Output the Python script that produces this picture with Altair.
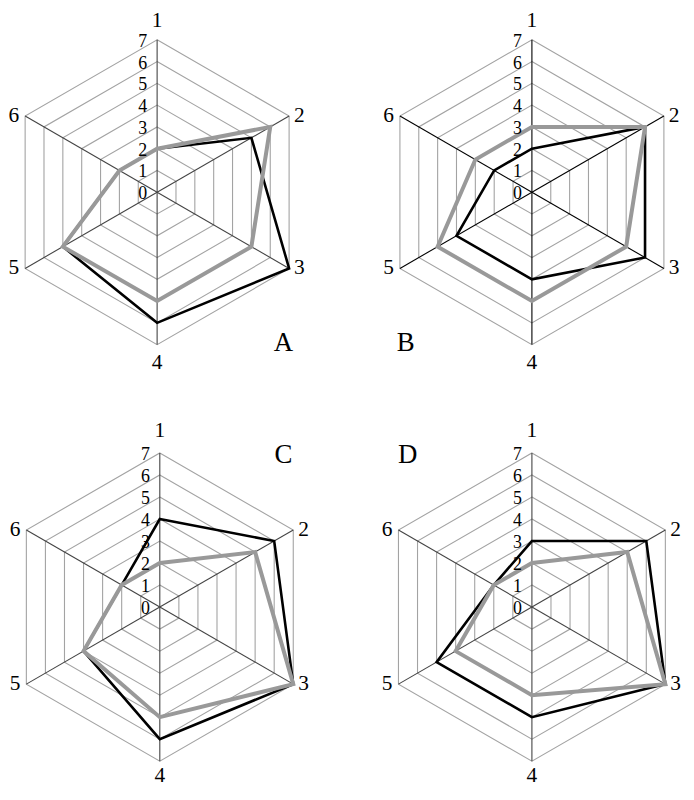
import altair as alt
import pandas as pd

# ---------------- data ----------------
AXIS_LABELS = ["1", "2", "3", "4", "5", "6"]
LEVELS = [1, 2, 3, 4, 5, 6, 7]
TICK_LABELS = [0, 1, 2, 3, 4, 5, 6, 7]
PANELS = ["A", "B", "C", "D"]

BLACK_A = [2, 5, 7, 6, 5, 2]
GRAY_A = [2, 6, 5, 5, 5, 2]
BLACK_B = [2, 6, 6, 4, 4, 2]
GRAY_B = [3, 6, 5, 5, 5, 3]
BLACK_C = [4, 6, 7, 6, 4, 2]
GRAY_C = [2, 5, 7, 5, 4, 2]
BLACK_D = [3, 6, 7, 5, 5, 2]
GRAY_D = [2, 5, 7, 4, 4, 2]

SERIES = {
    "A": (BLACK_A, GRAY_A),
    "B": (BLACK_B, GRAY_B),
    "C": (BLACK_C, GRAY_C),
    "D": (BLACK_D, GRAY_D),
}
RMAX = max(LEVELS)

FONT = "Liberation Serif"

# ---------------- layout (pixels) ----------------
H1, H2 = 410, 372
LAYOUT = {
    "A": dict(w=340, h=H1, cx=150, cy=183, u=153.3 / 7, spoke="#444444", lx=277, ly=335, tdy=-18.5, bdy=19),
    "B": dict(w=338, h=H1, cx=187, cy=183, u=153.3 / 7, spoke="#000000", lx=60, ly=335, tdy=-18.5, bdy=19),
    "C": dict(w=340, h=H2, cx=152.7, cy=190.3, u=155.0 / 7, spoke="#444444", lx=277, ly=37, tdy=-22, bdy=15),
    "D": dict(w=338, h=H2, cx=187, cy=190.3, u=155.0 / 7, spoke="#444444", lx=62, ly=37, tdy=-22, bdy=15),
}

ANG = "PI/2 - datum.k*PI/3"


def panel(name):
    L = LAYOUT[name]
    u = L["u"]
    xdom = [-L["cx"] / u, (L["w"] - L["cx"]) / u]
    ydom = [-(L["h"] - L["cy"]) / u, L["cy"] / u]
    xs = alt.Scale(domain=xdom, nice=False, zero=False)
    ys = alt.Scale(domain=ydom, nice=False, zero=False)

    def X(f):
        return alt.X(f, type="quantitative", scale=xs, axis=None)

    def Y(f):
        return alt.Y(f, type="quantitative", scale=ys, axis=None)

    # rings
    ring_df = pd.DataFrame([{"lev": lv, "k": k} for lv in LEVELS for k in range(len(AXIS_LABELS))])
    rings = (
        alt.Chart(ring_df)
        .transform_calculate(ang=ANG)
        .transform_calculate(px="datum.lev*cos(datum.ang)", py="datum.lev*sin(datum.ang)")
        .mark_line(interpolate="linear-closed", color="#a3a3a3", strokeWidth=1.1)
        .encode(x=X("px"), y=Y("py"), detail="lev:N", order="k:Q")
    )

    # spokes
    ax_df = pd.DataFrame({"k": list(range(len(AXIS_LABELS))), "lab": AXIS_LABELS})
    spokes = (
        alt.Chart(ax_df)
        .transform_calculate(ang=ANG)
        .transform_calculate(
            zx="0", zy="0",
            ex=f"{RMAX}*cos(datum.ang)", ey=f"{RMAX}*sin(datum.ang)",
        )
        .mark_rule(color=L["spoke"], strokeWidth=1.1)
        .encode(x=X("zx"), y=Y("zy"), x2="ex:Q", y2="ey:Q")
    )

    black, gray = SERIES[name]

    def series_layer(vals, color, width):
        df = pd.DataFrame({"k": list(range(len(vals))), "v": vals})
        return (
            alt.Chart(df)
            .transform_calculate(ang=ANG)
            .transform_calculate(px="datum.v*cos(datum.ang)", py="datum.v*sin(datum.ang)")
            .mark_line(interpolate="linear-closed", color=color, strokeWidth=width,
                       strokeJoin="miter", strokeMiterLimit=10)
            .encode(x=X("px"), y=Y("py"), order="k:Q")
        )

    black_line = series_layer(black, "#000000", 2.6)
    gray_line = series_layer(gray, "#999999", 4)

    # tick labels
    tick_df = pd.DataFrame({"t": TICK_LABELS})
    ticks = (
        alt.Chart(tick_df)
        .transform_calculate(zx="0", lab="'' + datum.t")
        .mark_text(align="right", baseline="middle", dx=-10, dy=2, font=FONT, fontSize=18, color="#000000")
        .encode(x=X("zx"), y=Y("t"), text="lab:N")
    )

    # axis labels
    base_lab = (
        alt.Chart(ax_df)
        .transform_calculate(ang=ANG)
        .transform_calculate(ex=f"{RMAX}*cos(datum.ang)", ey=f"{RMAX}*sin(datum.ang)")
    )
    fs = 21.5
    lab_top = base_lab.transform_filter("datum.k == 0").mark_text(
        align="center", baseline="middle", dy=L["tdy"], font=FONT, fontSize=fs, color="#000000"
    ).encode(x=X("ex"), y=Y("ey"), text="lab:N")
    lab_bot = base_lab.transform_filter("datum.k == 3").mark_text(
        align="center", baseline="middle", dy=L["bdy"], font=FONT, fontSize=fs, color="#000000"
    ).encode(x=X("ex"), y=Y("ey"), text="lab:N")
    lab_right = base_lab.transform_filter("datum.k == 1 || datum.k == 2").mark_text(
        align="left", baseline="middle", dx=5, font=FONT, fontSize=fs, color="#000000"
    ).encode(x=X("ex"), y=Y("ey"), text="lab:N")
    lab_left = base_lab.transform_filter("datum.k == 4 || datum.k == 5").mark_text(
        align="right", baseline="middle", dx=-6, font=FONT, fontSize=fs, color="#000000"
    ).encode(x=X("ex"), y=Y("ey"), text="lab:N")

    letter = (
        alt.Chart(pd.DataFrame({"p": [name]}))
        .mark_text(align="center", baseline="middle", font=FONT, fontSize=27, color="#000000")
        .encode(x=alt.value(L["lx"]), y=alt.value(L["ly"]), text="p:N")
    )

    return alt.layer(
        rings, spokes, black_line, gray_line, ticks, lab_top, lab_bot, lab_right, lab_left, letter
    ).properties(width=L["w"], height=L["h"])


chart = (
    alt.concat(*[panel(p) for p in PANELS], columns=2, spacing=0, bounds="flush")
    .properties(padding=0, background="#ffffff")
    .configure_view(stroke=None)
)

chart.save("out.html", embed_options={"renderer": "svg", "actions": False})
